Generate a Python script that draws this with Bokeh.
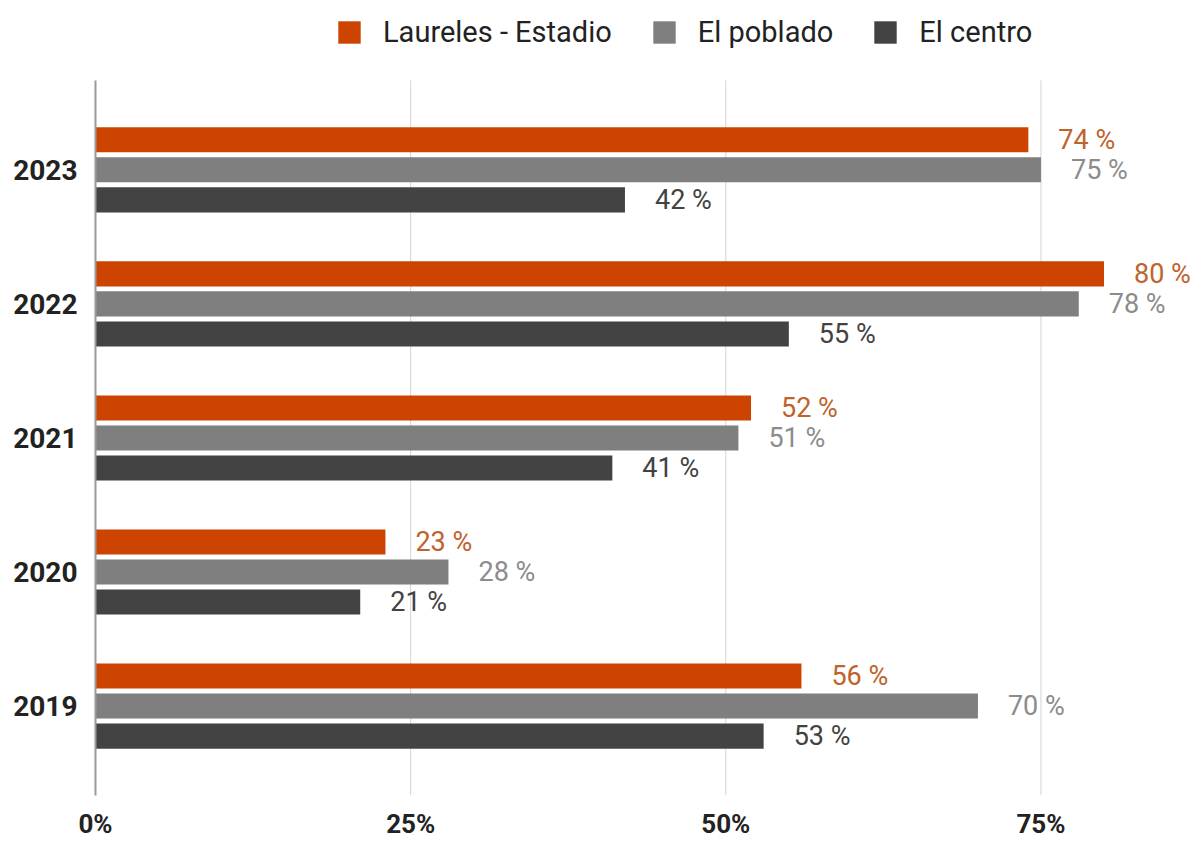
from bokeh.plotting import figure
from bokeh.models import Range1d, Legend, LegendItem, ColumnDataSource, FixedTicker
from bokeh.transform import dodge
from bokeh.core.properties import value
from bokeh.embed import file_html
from bokeh.resources import INLINE

# ---- data ----
years = ["2019", "2020", "2021", "2022", "2023"]
laureles = [56, 23, 52, 80, 74]
poblado = [70, 28, 51, 78, 75]
centro = [53, 21, 41, 55, 42]
series_names = ["Laureles - Estadio", "El poblado", "El centro"]
x_ticks = [0, 25, 50, 75]

# ---- styling ----
bar_colors = ["#cc4400", "#7f7f7f", "#434343"]
label_colors = ["#c0622b", "#8c8c8c", "#424242"]
offsets = [0.224, 0.0, -0.224]
bar_h = 0.187
ymin, ymax_cat = -0.667, 4.667
FONT = "Roboto"

ypos = list(range(len(years)))

p = figure(width=1193, height=841,
           x_range=Range1d(0, 87.1), y_range=Range1d(ymin, 5.263),
           output_backend="svg", toolbar_location=None,
           min_border_left=95, min_border_right=0,
           min_border_top=0, min_border_bottom=44)
p.outline_line_color = None
p.xgrid.visible = False
p.ygrid.visible = False
p.background_fill_color = "white"
p.border_fill_color = "white"

# vertical grid lines (bounded to category area)
p.segment(x0=x_ticks[1:], x1=x_ticks[1:], y0=[ymin] * 3, y1=[ymax_cat] * 3,
          line_color="#d3d3d3", line_width=1, level="underlay")

renderers = []
for name, vals, bc, lc, off in zip(series_names, [laureles, poblado, centro],
                                   bar_colors, label_colors, offsets):
    src = ColumnDataSource(dict(y=ypos, v=vals,
                                lab=[f"{v} %" for v in vals]))
    r = p.hbar(y=dodge("y", off), left=0, right="v", height=bar_h, source=src,
               fill_color=bc, line_color=None)
    p.text(x="v", y=dodge("y", off), text="lab", source=src,
           x_offset=30, text_baseline="middle", text_align="left",
           text_font=value(FONT), text_font_size="27px", text_color=lc)
    renderers.append(r)

legend = Legend(items=[LegendItem(label=n, renderers=[r]) for n, r in zip(series_names, renderers)],
                orientation="horizontal", location=(240, 746),
                padding=0, margin=0, spacing=38, label_standoff=20,
                glyph_width=28, glyph_height=28,
                label_text_font=FONT, label_text_font_size="29px",
                label_text_color="#222222",
                border_line_color=None, background_fill_alpha=0)
p.add_layout(legend)

# y axis
p.yaxis.ticker = FixedTicker(ticks=ypos)
p.yaxis.major_label_overrides = {i: y for i, y in zip(ypos, years)}
p.yaxis.bounds = (ymin, ymax_cat)
p.yaxis.axis_line_color = "#9a9a9a"
p.yaxis.axis_line_width = 2
p.yaxis.major_tick_line_color = None
p.yaxis.minor_tick_line_color = None
p.yaxis.major_label_text_font = FONT
p.yaxis.major_label_text_font_size = "28px"
p.yaxis.major_label_text_font_style = "bold"
p.yaxis.major_label_text_color = "#222222"
p.yaxis.major_label_standoff = 12

# x axis
p.xaxis.ticker = FixedTicker(ticks=x_ticks)
p.xaxis.major_label_overrides = {t: f"{t}%" for t in x_ticks}
p.xaxis.axis_line_color = None
p.xaxis.major_tick_line_color = None
p.xaxis.minor_tick_line_color = None
p.xaxis.major_label_text_font = FONT
p.xaxis.major_label_text_font_size = "26px"
p.xaxis.major_label_text_font_style = "bold"
p.xaxis.major_label_text_color = "#222222"
p.xaxis.major_label_standoff = 7

open("out.html", "w").write(file_html(p, INLINE))
